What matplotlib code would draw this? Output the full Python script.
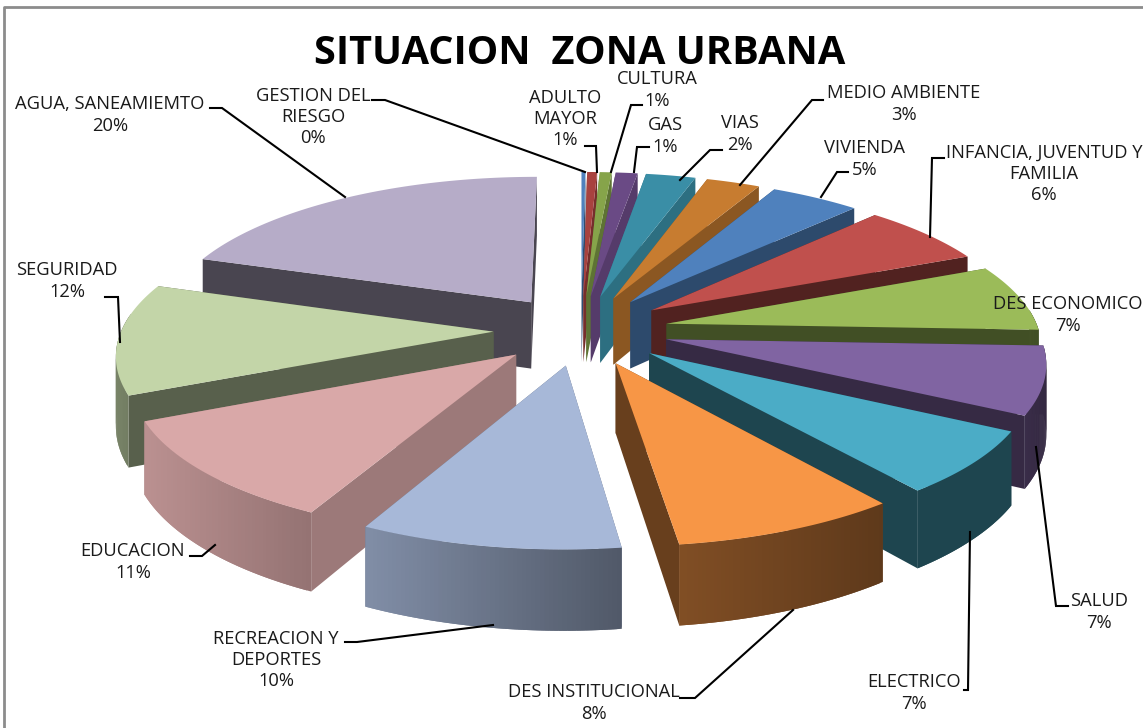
import numpy as np
import matplotlib
matplotlib.use('Agg')
import matplotlib.pyplot as plt
from matplotlib.colors import to_rgb

names = ['GESTION DEL\nRIESGO', 'ADULTO\nMAYOR', 'CULTURA', 'GAS', 'VIAS', 'MEDIO AMBIENTE',
         'VIVIENDA', 'INFANCIA, JUVENTUD Y\nFAMILIA', 'DES ECONOMICO', 'SALUD', 'ELECTRICO',
         'DES INSTITUCIONAL', 'RECREACION Y\nDEPORTES', 'EDUCACION', 'SEGURIDAD', 'AGUA, SANEAMIEMTO']
values = [0.2, 0.5, 0.6, 1.1, 2.5, 2.7, 4.5, 6.5, 7.1, 7.2, 6.7, 8.4, 9.6, 10.9, 11.8, 19.9]
percents = [0, 1, 1, 1, 2, 3, 5, 6, 7, 7, 7, 8, 10, 11, 12, 20]

tops = ['#4f81bd', '#a8423f', '#86a44a', '#6a4a85', '#3a8ea6', '#c77c30', '#4f81bd', '#c0504d',
        '#9bbb59', '#8064a2', '#4bacc6', '#f79646', '#a7b8d8', '#d9a8a8', '#c3d5a8', '#b6acc8']
# wall brightness: radial wall, arc left, arc right
shades = [(.6, .6, .5), (.7, .6, .5), (.7, .6, .5), (.8, .6, .5), (.78, .6, .5), (.7, .6, .5),
          (.57, .6, .5), (.42, .55, .45), (.42, .5, .42), (.42, .45, .4), (.4, .4, .4),
          (.42, .52, .38), (.6, .77, .48), (.72, .86, .68), (.45, .62, .5), (.4, .6, .5)]

# projection of the disc
CX, CY, RX, RY, PERSP, DEPTH, EXPLODE = 581, 330, 372, 149, 0.133, 68, 0.235


def project(u, v, z=0.0):
    s = 1 / (1 + PERSP * v)
    return CX + RX * u * s, CY - RY * v * s + DEPTH * z * s


def shade(col, f):
    return tuple(c * f for c in to_rgb(col))


fig = plt.figure(figsize=(11.43, 7.28), dpi=100)
ax = fig.add_axes([0, 0, 1, 1])
ax.set_xlim(0, 1143)
ax.set_ylim(728, 0)
ax.axis('off')

ax.plot([1150, 4, 4], [7, 7, 735], color='#8c8c8c', lw=2, zorder=0)

fractions = np.array(values) / sum(values)
ends = np.pi / 2 - 2 * np.pi * np.cumsum(fractions)
starts = ends + 2 * np.pi * fractions
mids = (starts + ends) / 2

for i in np.argsort(-np.sin(mids)):
    a = np.linspace(starts[i], ends[i], 60)
    ox, oy = EXPLODE * np.cos(mids[i]), EXPLODE * np.sin(mids[i])
    us, vs = ox + np.cos(a), oy + np.sin(a)
    col = tops[i]
    rad, left, right = shades[i]
    # radial walls
    x0, y0 = project(ox, oy)
    x3, y3 = project(ox, oy, 1)
    for k in (0, -1):
        x1, y1 = project(us[k], vs[k])
        x2, y2 = project(us[k], vs[k], 1)
        ax.fill([x0, x1, x2, x3], [y0, y1, y2, y3], color=shade(col, rad), lw=0)
    # outer wall, darker to the right, only the part that faces the viewer
    xt, yt = project(us, vs)
    xb, yb = project(us, vs, 1)
    span = max(xt.max() - xt.min(), 1)
    for k in np.where(np.sin(a[:-1]) < 0.1)[0]:
        n = min(k + 2, len(a) - 1)
        t = ((xt[k] + xt[n]) / 2 - xt.min()) / span
        ax.fill([xt[k], xt[n], xb[n], xb[k]], [yt[k], yt[n], yb[n], yb[k]],
                color=shade(col, left + (right - left) * t), lw=0)
    # top face
    ax.fill(np.r_[x0, xt], np.r_[y0, yt], color=col, lw=0)

ax.text(580, 53, 'SITUACION  ZONA URBANA', ha='center', va='center', fontsize=28.6,
        fontweight='bold', family='Open Sans', color='black')

label_x = [313, 565, 657, 665, 740, 904, 865, 1044, 1068, 1099, 914, 594, 276, 133, 67, 110]
label_y = [117, 119, 90, 136, 134, 104, 159, 174, 315, 612, 693, 703, 660, 562, 281, 115]
leaders = [[(372, 100), (385, 100), (585, 172)], [(585, 146), (596, 146), (597, 172)],
           [(642, 105), (631, 105), (611, 172)], [(649, 147), (637, 147), (634, 172)],
           [(722, 150), (710, 150), (680, 180)], [(823, 100), (812, 100), (740, 185)],
           [(848, 172), (837, 172), (821, 197)], [(944, 158), (932, 158), (930, 237)],
           [], [(1068, 606), (1056, 606), (1036, 447)], [(964, 690), (968, 690), (970, 532)],
           [(680, 698), (695, 698), (793, 610)], [(345, 642), (357, 642), (493, 625)],
           [(190, 556), (202, 556), (215, 545)], [(105, 297), (118, 297), (120, 342)],
           [(210, 108), (222, 108), (345, 197)]]

for name, pct, x, y, line in zip(names, percents, label_x, label_y, leaders):
    ax.text(x, y, f'{name}\n{pct}%', ha='center', va='center', fontsize=13.2, family='Open Sans',
            linespacing=1.22, color='#1a1a1a', clip_on=True)
    if line:
        ax.plot(*zip(*line), color='black', lw=1.5, solid_joinstyle='miter')

fig.savefig('out.png', dpi=100)
